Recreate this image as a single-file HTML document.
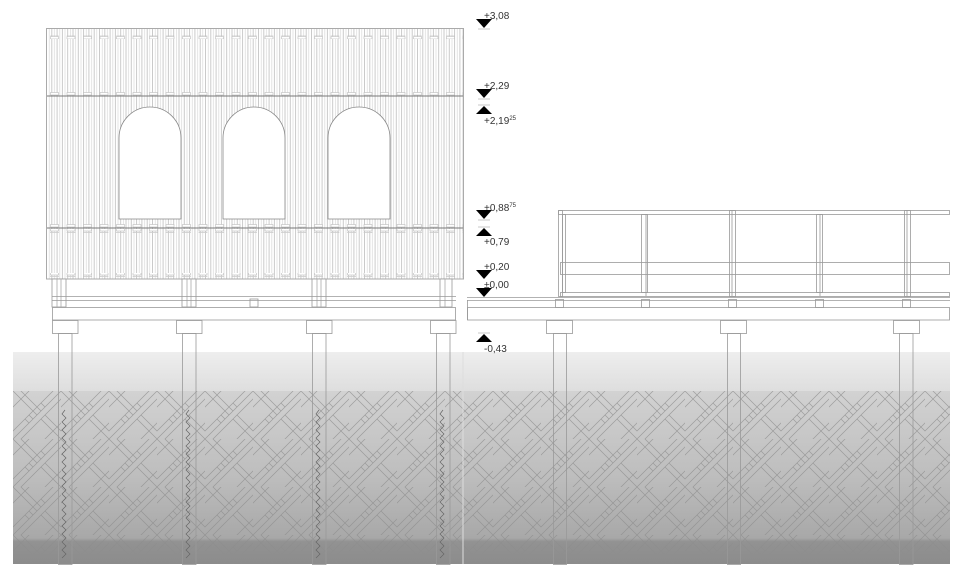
<!DOCTYPE html>
<html><head><meta charset="utf-8"><style>
html,body{margin:0;padding:0;background:#fff;}
svg{display:block}
text{font-family:"Liberation Sans",sans-serif;font-size:10px;fill:#333}
</style></head><body>
<svg width="960" height="577" viewBox="0 0 960 577" xmlns="http://www.w3.org/2000/svg">
<defs>
<pattern id="slats" x="46" y="0" width="10.6" height="10" patternUnits="userSpaceOnUse">
<line x1="0.5" y1="0" x2="0.5" y2="10" stroke="#b4b4b4" stroke-width="0.7"/>
<line x1="3.2" y1="0" x2="3.2" y2="10" stroke="#d8d8d8" stroke-width="0.7"/>
<line x1="5.8" y1="0" x2="5.8" y2="10" stroke="#b4b4b4" stroke-width="0.7"/>
<line x1="8.4" y1="0" x2="8.4" y2="10" stroke="#d8d8d8" stroke-width="0.7"/>
</pattern>
<pattern id="dash" x="50" y="0" width="16.5" height="4" patternUnits="userSpaceOnUse">
<rect x="0.5" y="0.5" width="8" height="2.5" fill="#fff" stroke="#bbb" stroke-width="0.6"/>
</pattern>
<linearGradient id="g1" x1="0" y1="0" x2="0" y2="1">
<stop offset="0" stop-color="#eeeeee"/><stop offset="1" stop-color="#dedede"/>
</linearGradient>
<linearGradient id="g2" x1="0" y1="0" x2="0" y2="1">
<stop offset="0" stop-color="#d2d2d2"/><stop offset="0.5" stop-color="#bdbdbd"/><stop offset="0.85" stop-color="#a8a8a8"/><stop offset="0.87" stop-color="#929292"/><stop offset="1" stop-color="#8c8c8c"/>
</linearGradient>
<pattern id="hatch" x="13" y="391" width="48" height="48" patternUnits="userSpaceOnUse">
<g stroke="#8e8e8e" stroke-width="0.7" fill="none" opacity="0.75">
<line x1="-4" y1="52" x2="52" y2="-4"/><line x1="4" y1="52" x2="52" y2="4"/><line x1="-4" y1="44" x2="44" y2="-4"/>
<line x1="28" y1="52" x2="52" y2="28"/><line x1="-4" y1="20" x2="20" y2="-4"/>
<line x1="-4" y1="-4" x2="20" y2="20"/><line x1="4" y1="-4" x2="24" y2="16"/>
<line x1="28" y1="28" x2="52" y2="52"/><line x1="32" y1="24" x2="52" y2="44"/>
<line x1="12" y1="28" x2="16" y2="32"/><line x1="16" y1="24" x2="20" y2="28"/><line x1="20" y1="20" x2="24" y2="24"/><line x1="24" y1="16" x2="28" y2="20"/><line x1="28" y1="12" x2="32" y2="16"/>
</g>
</pattern>
</defs>

<!-- ground -->
<rect x="13" y="352" width="937" height="39" fill="url(#g1)"/>
<rect x="13" y="391" width="937" height="173" fill="url(#g2)"/>
<rect x="13" y="391" width="937" height="173" fill="url(#hatch)"/>
<line x1="463" y1="352" x2="463" y2="564" stroke="#ddd" stroke-width="1"/>

<!-- cabin -->
<rect x="46" y="28" width="418" height="251" fill="#fff"/>
<rect x="46" y="28" width="418" height="251" fill="url(#slats)"/>
<rect x="46" y="35" width="418" height="4" fill="url(#dash)"/>
<rect x="46" y="92" width="418" height="4" fill="url(#dash)"/>
<rect x="46" y="224" width="418" height="4" fill="url(#dash)"/>
<rect x="46" y="229" width="418" height="4" fill="url(#dash)"/>
<rect x="46" y="273" width="418" height="4" fill="url(#dash)"/>
<line x1="46" y1="96" x2="464" y2="96" stroke="#777" stroke-width="1"/>
<line x1="46" y1="228" x2="464" y2="228" stroke="#777" stroke-width="1"/>
<rect x="46.5" y="28.5" width="417" height="250.5" fill="none" stroke="#aaa"/>
<g fill="#fff" stroke="#888" stroke-width="0.8">
<path d="M119 219 V138 A31 31 0 0 1 181 138 V219 Z"/>
<path d="M223 219 V138 A31 31 0 0 1 285 138 V219 Z"/>
<path d="M328 219 V138 A31 31 0 0 1 390 138 V219 Z"/>
</g>

<!-- cabin substructure -->
<g fill="#fff" stroke="#999" stroke-width="0.8">
<rect x="52" y="279" width="14" height="28"/><rect x="182" y="279" width="14" height="28"/><rect x="312" y="279" width="14" height="28"/><rect x="440" y="279" width="12" height="28"/>
</g>
<g stroke="#aaa" stroke-width="0.8">
<line x1="57" y1="279" x2="57" y2="307"/><line x1="61" y1="279" x2="61" y2="307"/>
<line x1="187" y1="279" x2="187" y2="307"/><line x1="191" y1="279" x2="191" y2="307"/>
<line x1="317" y1="279" x2="317" y2="307"/><line x1="321" y1="279" x2="321" y2="307"/>
<line x1="445" y1="279" x2="445" y2="307"/>
</g>
<g fill="none" stroke="#999" stroke-width="0.8">
<line x1="52" y1="296.5" x2="456" y2="296.5"/><line x1="52" y1="300.5" x2="456" y2="300.5"/>
<rect x="52.5" y="307.5" width="403" height="12.5"/>
<rect x="250" y="299" width="8" height="8"/>
<rect x="52.5" y="320.5" width="25.5" height="13"/><rect x="176.5" y="320.5" width="25.5" height="13"/><rect x="306.5" y="320.5" width="25.5" height="13"/><rect x="430.5" y="320.5" width="25.5" height="13"/>
<rect x="58.5" y="333.5" width="13.5" height="231"/><rect x="182.5" y="333.5" width="13.5" height="231"/><rect x="312.5" y="333.5" width="13.5" height="231"/><rect x="436.5" y="333.5" width="13.5" height="231"/>
</g>
<g fill="none" stroke="#666" stroke-width="0.7">
<path id="zz" d="M65 410 l-3 4 l4 4 l-4 4 l4 4 l-4 4 l4 4 l-4 4 l4 4 l-4 4 l4 4 l-4 4 l4 4 l-4 4 l4 4 l-4 4 l4 4 l-4 4 l4 4 l-4 4 l4 4 l-4 4 l4 4 l-4 4 l4 4 l-4 4 l4 4 l-4 4 l4 4 l-4 4 l4 4 l-4 4 l4 4 l-4 4 l4 4 l-4 4 l4 4 l-4 4"/>
<use href="#zz" x="124"/><use href="#zz" x="254"/><use href="#zz" x="378"/>
</g>

<!-- right deck -->
<g fill="none" stroke="#999" stroke-width="0.8">
<rect x="558.5" y="210.5" width="391" height="4"/>
<rect x="560.5" y="262.5" width="389" height="12"/>
<rect x="560.5" y="292.5" width="389" height="4"/>
<rect x="558.5" y="210.5" width="4" height="86"/><rect x="562.5" y="214.5" width="3" height="78"/>
<rect x="641.5" y="214.5" width="6" height="78"/><line x1="646" y1="214" x2="646" y2="296"/>
<rect x="729.5" y="210.5" width="6" height="86"/><line x1="732" y1="210" x2="732" y2="296"/>
<rect x="816.5" y="214.5" width="6" height="78"/><line x1="820" y1="214" x2="820" y2="296"/>
<rect x="904.5" y="210.5" width="6" height="86"/><line x1="907" y1="210" x2="907" y2="296"/>
<line x1="467" y1="297.5" x2="950" y2="297.5"/><line x1="467" y1="300.5" x2="950" y2="300.5"/>
<rect x="467.5" y="307.5" width="482" height="12.5"/>
<rect x="555.5" y="299.5" width="8" height="8"/><rect x="641.5" y="299.5" width="8" height="8"/><rect x="728.5" y="299.5" width="8" height="8"/><rect x="815.5" y="299.5" width="8" height="8"/><rect x="902.5" y="299.5" width="8" height="8"/>
<line x1="467.5" y1="300" x2="467.5" y2="320"/>
<rect x="546.5" y="320.5" width="26" height="13"/><rect x="720.5" y="320.5" width="26" height="13"/><rect x="893.5" y="320.5" width="26" height="13"/>
<rect x="553.5" y="333.5" width="13" height="231"/><rect x="727.5" y="333.5" width="13" height="231"/><rect x="899.5" y="333.5" width="13.5" height="231"/>
</g>

<!-- level markers -->
<g fill="#000">
<polygon points="476,19 492,19 484,28"/>
<polygon points="476,89 492,89 484,98"/>
<polygon points="476,114 492,114 484,106"/>
<polygon points="476,210 492,210 484,219"/>
<polygon points="476,236 492,236 484,228"/>
<polygon points="476,270 492,270 484,279"/>
<polygon points="476,288 492,288 484,297"/>
<polygon points="476,342 492,342 484,334"/>
</g>
<g stroke="#bbb" stroke-width="0.8">
<line x1="478" y1="29" x2="490" y2="29"/><line x1="478" y1="99" x2="490" y2="99"/><line x1="478" y1="105" x2="490" y2="105"/>
<line x1="478" y1="220" x2="490" y2="220"/><line x1="478" y1="227" x2="490" y2="227"/><line x1="478" y1="333" x2="490" y2="333"/>
</g>
<text x="484" y="19">+3,08</text>
<text x="484" y="89">+2,29</text>
<text x="484" y="124">+2,19<tspan font-size="6" dy="-4">25</tspan></text>
<text x="484" y="211">+0,88<tspan font-size="6" dy="-4">75</tspan></text>
<text x="484" y="245">+0,79</text>
<text x="484" y="270">+0,20</text>
<text x="484" y="288">±0,00</text>
<text x="484" y="352">-0,43</text>
</svg>
</body></html>
